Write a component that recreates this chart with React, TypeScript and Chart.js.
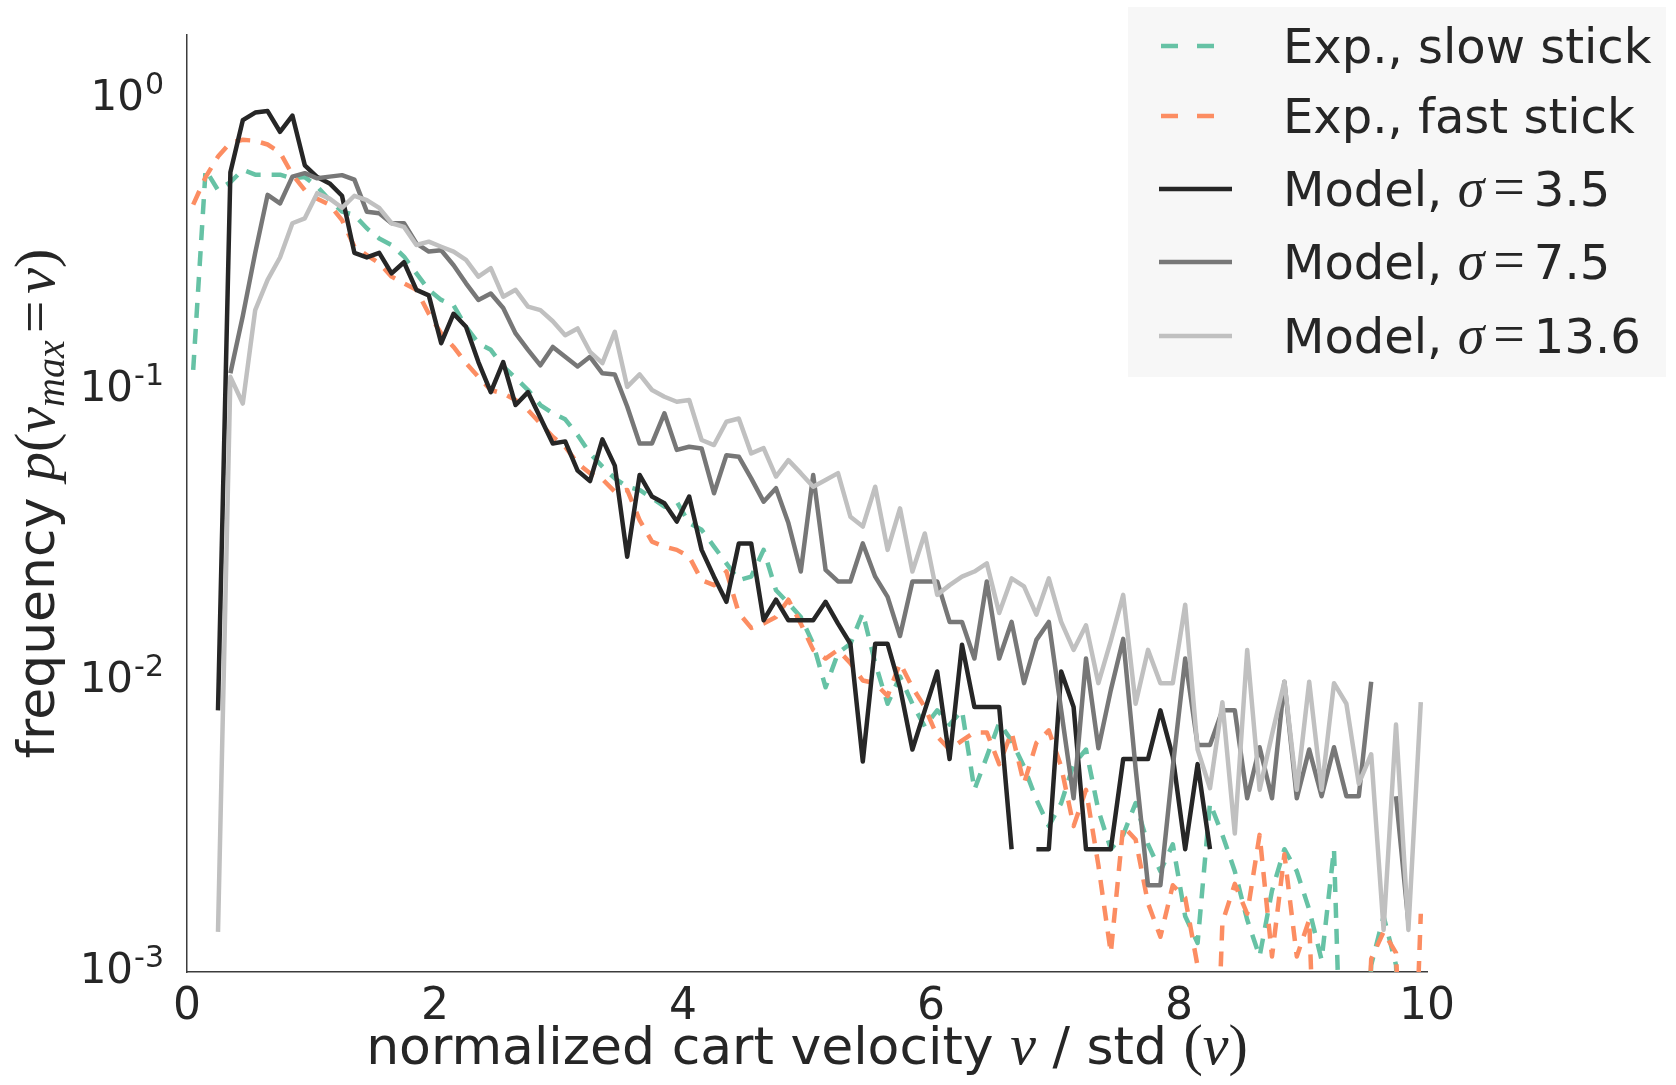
import { useEffect, useRef } from "react";
import { Chart, registerables } from "chart.js";

Chart.register(...registerables);

// Histogram bin centres of the normalized velocity v / std(v)
const velocityBins = [
  0.05, 0.15, 0.25, 0.35, 0.45, 0.55, 0.65, 0.75, 0.85, 0.95,
  1.05, 1.15, 1.25, 1.35, 1.45, 1.55, 1.65, 1.75, 1.85, 1.95,
  2.05, 2.15, 2.25, 2.35, 2.45, 2.55, 2.65, 2.75, 2.85, 2.95,
  3.05, 3.15, 3.25, 3.35, 3.45, 3.55, 3.65, 3.75, 3.85, 3.95,
  4.05, 4.15, 4.25, 4.35, 4.45, 4.55, 4.65, 4.75, 4.85, 4.95,
  5.05, 5.15, 5.25, 5.35, 5.45, 5.55, 5.65, 5.75, 5.85, 5.95,
  6.05, 6.15, 6.25, 6.35, 6.45, 6.55, 6.65, 6.75, 6.85, 6.95,
  7.05, 7.15, 7.25, 7.35, 7.45, 7.55, 7.65, 7.75, 7.85, 7.95,
  8.05, 8.15, 8.25, 8.35, 8.45, 8.55, 8.65, 8.75, 8.85, 8.95,
  9.05, 9.15, 9.25, 9.35, 9.45, 9.55, 9.65, 9.75, 9.85, 9.95,
];

// Measured frequencies (values under the axis floor stand for empty bins)
const expSlowStick = [
  0.111, 0.54, 0.46, 0.49, 0.54, 0.52, 0.52, 0.52, 0.505, 0.51,
  0.473, 0.425, 0.388, 0.378, 0.34, 0.314, 0.298, 0.272, 0.238, 0.209,
  0.193, 0.185, 0.156, 0.137, 0.13, 0.114, 0.104, 0.0946, 0.084, 0.0787,
  0.075, 0.0663, 0.0573, 0.0516, 0.047, 0.044, 0.0429, 0.0402, 0.0376, 0.0391,
  0.033, 0.0313, 0.0274, 0.024, 0.021, 0.0216, 0.0267, 0.0194, 0.0175, 0.0157,
  0.0127, 0.009, 0.0118, 0.0127, 0.0162, 0.0109, 0.0079, 0.0098, 0.0079, 0.0066,
  0.0075, 0.0067, 0.0075, 0.004, 0.0052, 0.0068, 0.0059, 0.0048, 0.0037, 0.003,
  0.0036, 0.0049, 0.0055, 0.0034, 0.0025, 0.0028, 0.0036, 0.0026, 0.0021, 0.0026,
  0.00147, 0.00119, 0.0036, 0.0028, 0.0021, 0.00143, 0.00107, 0.0018, 0.0025, 0.0021,
  0.00155, 0.00104, 0.0025, 0.0001, 0.0001, 0.001, 0.00147, 0.001, 0.0001, null,
];

const expFastStick = [
  0.41, 0.51, 0.6, 0.67, 0.685, 0.68, 0.66, 0.62, 0.52, 0.46,
  0.43, 0.41, 0.363, 0.294, 0.275, 0.258, 0.232, 0.22, 0.209, 0.173,
  0.148, 0.133, 0.117, 0.105, 0.0946, 0.092, 0.0874, 0.0807, 0.0726, 0.0653,
  0.0604, 0.053, 0.049, 0.0467, 0.0423, 0.0429, 0.0338, 0.0285, 0.0274, 0.0267,
  0.0253, 0.021, 0.0202, 0.0225, 0.0162, 0.0144, 0.0149, 0.0157, 0.018, 0.0149,
  0.0121, 0.0113, 0.0121, 0.0109, 0.0095, 0.0093, 0.0084, 0.0109, 0.009, 0.0077,
  0.0061, 0.0055, 0.0059, 0.0063, 0.0063, 0.0049, 0.0063, 0.0042, 0.0058, 0.0064,
  0.0048, 0.003, 0.004, 0.0022, 0.0011, 0.003, 0.0027, 0.00163, 0.00125, 0.00188,
  0.0017, 0.00099, 0.0001, 0.0014, 0.0019, 0.0015, 0.0028, 0.00107, 0.0024, 0.00107,
  0.00143, 0.0001, 0.0001, 0.0001, 0.0001, 0.00105, 0.0013, 0.0011, 0.0001, 0.0015,
];

const modelSigma35 = [
  null, null, 0.0075, 0.53, 0.8, 0.85, 0.86, 0.73, 0.83, 0.56,
  0.51, 0.485, 0.44, 0.28, 0.27, 0.28, 0.238, 0.26, 0.209, 0.2,
  0.137, 0.173, 0.156, 0.118, 0.093, 0.118, 0.084, 0.093, 0.076, 0.062,
  0.063, 0.05, 0.046, 0.064, 0.052, 0.0253, 0.0483, 0.0407, 0.0386, 0.0334,
  0.0407, 0.0267, 0.0216, 0.0177, 0.0281, 0.0281, 0.0153, 0.018, 0.0153, 0.0153,
  0.0153, 0.0177, 0.0149, 0.0127, 0.005, 0.0127, 0.0127, 0.009, 0.0055, 0.0075,
  0.0102, 0.0051, 0.0126, 0.0077, 0.0077, 0.0077, 0.0025, null, 0.0025, 0.0025,
  0.0102, 0.0077, 0.0025, 0.0025, 0.0025, 0.0051, 0.0051, 0.0051, 0.0075, 0.0052,
  0.0025, 0.0049, 0.0025, null, null, null, null, null, null, null,
  null, null, null, null, null, null, null, null, null, null,
];

const modelSigma75 = [
  null, null, null, 0.108, 0.17, 0.28, 0.443, 0.414, 0.512, 0.526,
  0.505, 0.512, 0.518, 0.5, 0.388, 0.383, 0.354, 0.354, 0.302, 0.283,
  0.286, 0.254, 0.22, 0.193, 0.203, 0.181, 0.148, 0.13, 0.115, 0.133,
  0.123, 0.114, 0.123, 0.108, 0.107, 0.083, 0.062, 0.062, 0.0787, 0.0589,
  0.0604, 0.0596, 0.0418, 0.0565, 0.0558, 0.047, 0.0391, 0.0435, 0.033, 0.0225,
  0.0483, 0.0228, 0.0208, 0.0208, 0.0281, 0.0216, 0.0184, 0.0135, 0.0208, 0.0208,
  0.0208, 0.0151, 0.0151, 0.0113, 0.0208, 0.0113, 0.0151, 0.0093, 0.0131, 0.0151,
  0.0075, 0.00374, 0.0113, 0.00556, 0.0088, 0.0132, 0.00474, 0.00188, 0.00188, 0.0048,
  0.0113, 0.0057, 0.0057, 0.0075, 0.0075, 0.00374, 0.0056, 0.00374, 0.0094, 0.00374,
  0.0055, 0.0038, 0.0056, 0.0038, 0.0038, 0.0094, null, 0.0038, 0.0014, null,
];

const modelSigma136 = [
  null, null, 0.0013, 0.105, 0.085, 0.178, 0.226, 0.27, 0.354, 0.368,
  0.449, 0.43, 0.4, 0.44, 0.425, 0.4, 0.354, 0.344, 0.298, 0.306,
  0.294, 0.283, 0.265, 0.232, 0.248, 0.198, 0.209, 0.183, 0.178, 0.163,
  0.146, 0.154, 0.128, 0.117, 0.15, 0.097, 0.107, 0.0946, 0.0897, 0.0862,
  0.0874, 0.0637, 0.0612, 0.0736, 0.0755, 0.0573, 0.0597, 0.0477, 0.0543, 0.049,
  0.044, 0.0464, 0.049, 0.0347, 0.0321, 0.044, 0.0267, 0.0371, 0.0225, 0.0304,
  0.0187, 0.0202, 0.0216, 0.0225, 0.024, 0.0162, 0.0213, 0.02, 0.016, 0.0213,
  0.0151, 0.0121, 0.0147, 0.0093, 0.013, 0.0187, 0.0079, 0.0121, 0.0093, 0.0093,
  0.0173, 0.0055, 0.00405, 0.008, 0.00283, 0.0121, 0.004, 0.0062, 0.0094, 0.004,
  0.0094, 0.004, 0.0093, 0.0079, 0.0042, 0.0053, 0.00132, 0.0067, 0.00132, 0.008,
];

const seriesLabels = [
  "Exp., slow stick",
  "Exp., fast stick",
  "Model, σ = 3.5",
  "Model, σ = 7.5",
  "Model, σ = 13.6",
];
const seriesValues = [expSlowStick, expFastStick, modelSigma35, modelSigma75, modelSigma136];

const xTickStep = 2;
const yTickValues = [1, 0.1, 0.01, 0.001];
const yTickExponents = ["0", "-1", "-2", "-3"];

// ---- styling ----
const seriesStyles = [
  { color: "#66c2a5", dash: [15, 11] },
  { color: "#fc8d62", dash: [15, 11] },
  { color: "#262626", dash: [] as number[] },
  { color: "#777777", dash: [] as number[] },
  { color: "#c0c0c0", dash: [] as number[] },
];
const TEXT = "#262626";
const SANS = "'DejaVu Sans'";
const SERIF = "'Liberation Serif'";
const W = 1676;
const H = 1085;
const AREA = { left: 187, right: 1427, top: 35, bottom: 972 };

type Run = { text: string; font: string; dy?: number; gap?: number };

function drawRuns(ctx: CanvasRenderingContext2D, runs: Run[], x: number, y: number, measureOnly = false) {
  let cx = x;
  for (const r of runs) {
    cx += r.gap ?? 0;
    ctx.font = r.font;
    if (!measureOnly) ctx.fillText(r.text, cx, y + (r.dy ?? 0));
    cx += ctx.measureText(r.text).width + (r.gap ?? 0);
  }
  return cx - x;
}

function legendRuns(label: string): Run[] {
  const m = label.match(/^(.*?)σ = (.*)$/);
  const sans = `48px ${SANS}`;
  if (!m) return [{ text: label, font: sans }];
  return [
    { text: m[1], font: sans },
    { text: "σ", font: `italic 54px ${SERIF}` },
    { text: "=", font: `56px ${SERIF}`, gap: 9 },
    { text: m[2], font: sans },
  ];
}

const overlayPlugin = {
  id: "overlayText",
  afterDraw(chart: any) {
    const ctx: CanvasRenderingContext2D = chart.ctx;
    const yScale = chart.scales.y;
    ctx.save();
    ctx.fillStyle = TEXT;
    ctx.textBaseline = "alphabetic";
    ctx.textAlign = "left";

    // y tick labels as powers of ten
    const baseFont = `42px ${SANS}`;
    const expFont = `30px ${SANS}`;
    yTickValues.forEach((v, i) => {
      const py = yScale.getPixelForValue(v);
      ctx.font = baseFont;
      const wb = ctx.measureText("10").width;
      ctx.font = expFont;
      const we = ctx.measureText(yTickExponents[i]).width;
      const x0 = 164 - we - wb - 1;
      ctx.font = baseFont;
      ctx.fillText("10", x0, py + 18);
      ctx.font = expFont;
      ctx.fillText(yTickExponents[i], x0 + wb + 1, py + 2);
    });

    // x axis title
    const s52 = `52px ${SANS}`;
    const mi = `italic 58px ${SERIF}`;
    const mr = `58px ${SERIF}`;
    const xRuns: Run[] = [
      { text: "normalized cart velocity ", font: s52 },
      { text: "v", font: mi },
      { text: " / std ", font: s52 },
      { text: "(", font: mr },
      { text: "v", font: mi },
      { text: ")", font: mr },
    ];
    const xw = drawRuns(ctx, xRuns, 0, 0, true);
    const cx = (AREA.left + AREA.right) / 2;
    drawRuns(ctx, xRuns, cx - xw / 2, 1064);

    // y axis title (rotated)
    const yRuns: Run[] = [
      { text: "frequency ", font: s52 },
      { text: "p", font: mi },
      { text: "(", font: mr },
      { text: "v", font: mi },
      { text: "max", font: `italic 40px ${SERIF}`, dy: 10 },
      { text: "=", font: mr, gap: 7 },
      { text: "v", font: mi },
      { text: ")", font: mr },
    ];
    const yw = drawRuns(ctx, yRuns, 0, 0, true);
    ctx.save();
    ctx.translate(54, (AREA.top + AREA.bottom) / 2);
    ctx.rotate(-Math.PI / 2);
    drawRuns(ctx, yRuns, -yw / 2, 0);
    ctx.restore();

    // legend
    ctx.fillStyle = "#f7f7f7";
    ctx.fillRect(1128, 7, 538, 370);
    const rows = [46, 116, 189, 262, 336];
    chart.data.datasets.forEach((ds: any, i: number) => {
      const y = rows[i];
      ctx.save();
      ctx.strokeStyle = ds.borderColor;
      ctx.lineWidth = ds.borderWidth;
      ctx.lineCap = "butt";
      if (ds.borderDash && ds.borderDash.length) {
        ctx.setLineDash([17, 19]);
        ctx.beginPath();
        ctx.moveTo(1161, y);
        ctx.lineTo(1232, y);
        ctx.stroke();
      } else {
        ctx.beginPath();
        ctx.moveTo(1159, y);
        ctx.lineTo(1232, y);
        ctx.stroke();
      }
      ctx.restore();
      ctx.fillStyle = TEXT;
      drawRuns(ctx, legendRuns(ds.label), 1283, y + 17);
    });
    ctx.restore();
  },
};

export default function App() {
  const canvasRef = useRef<HTMLCanvasElement | null>(null);

  useEffect(() => {
    document.body.style.margin = "0";
    const canvas = canvasRef.current;
    if (!canvas) return;

    const datasets = seriesLabels.map((label, i) => ({
      label,
      data: velocityBins.map((x, k) => ({ x, y: seriesValues[i][k] })),
      borderColor: seriesStyles[i].color,
      backgroundColor: seriesStyles[i].color,
      borderDash: seriesStyles[i].dash,
      borderWidth: 4.5,
      borderJoinStyle: "round" as const,
      borderCapStyle: "butt" as const,
      pointRadius: 0,
      pointHoverRadius: 0,
      tension: 0,
      spanGaps: false,
      fill: false,
      clip: 0,
      order: seriesLabels.length - i,
    }));

    const chart = new Chart(canvas, {
      type: "line",
      data: { datasets },
      options: {
        animation: false,
        responsive: false,
        devicePixelRatio: 1,
        events: [],
        layout: { padding: { left: 0, right: W - AREA.right, top: AREA.top, bottom: 0 } },
        plugins: { legend: { display: false }, tooltip: { enabled: false } },
        scales: {
          x: {
            type: "linear",
            min: 0,
            max: 10,
            grid: { display: false, drawTicks: false },
            border: { display: true, color: "#3c3c3c", width: 1.5 },
            ticks: {
              stepSize: xTickStep,
              padding: 9,
              maxRotation: 0,
              color: TEXT,
              font: { family: "DejaVu Sans", size: 44 },
            },
            afterFit: (s: any) => {
              s.height = H - AREA.bottom;
            },
          },
          y: {
            type: "logarithmic",
            min: 0.000946,
            max: 1.57,
            grid: { display: false, drawTicks: false },
            border: { display: true, color: "#3c3c3c", width: 1.5 },
            ticks: { display: false },
            afterBuildTicks: (s: any) => {
              s.ticks = yTickValues.map((value) => ({ value }));
            },
            afterFit: (s: any) => {
              s.width = AREA.left;
            },
          },
        },
      },
      plugins: [overlayPlugin],
    });

    let alive = true;
    if ((document as any).fonts?.ready) {
      (document as any).fonts.ready.then(() => {
        if (alive) chart.update();
      });
    }
    return () => {
      alive = false;
      chart.destroy();
    };
  }, []);

  return (
    <div style={{ width: W, height: H, background: "#ffffff" }}>
      <canvas ref={canvasRef} width={W} height={H} style={{ display: "block" }} />
    </div>
  );
}
